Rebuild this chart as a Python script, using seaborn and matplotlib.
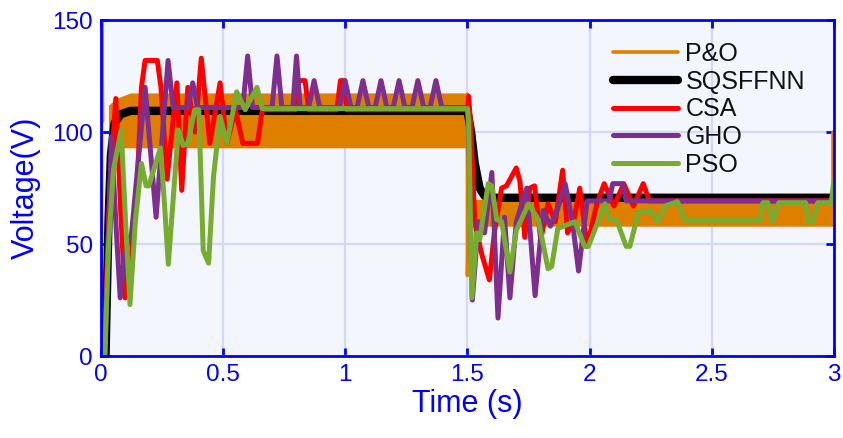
import matplotlib
matplotlib.use("Agg")
import matplotlib.pyplot as plt
import numpy as np
import pandas as pd
import seaborn as sns

# ── data ─────────────────────────────────────────────────────────────────────
# P&O: fast ripple drawn as an envelope band + its spikes
po_band_t  = [0.03, 0.06, 0.12, 1.497, 1.503, 3.0]
po_band_hi = [112, 115, 117.5, 117.5, 70, 70]
po_band_lo = [93, 93, 93, 93, 58, 58]
po_spike_t = [[0.0, 0.002, 0.006], [1.5, 1.5, 1.504], [2.998, 2.998]]
po_spike_v = [[0, 150, 105], [117, 36, 58], [60, 100]]

sq_t = [0, 0.018, 0.03, 0.04, 0.055, 0.08, 0.12, 1.5, 1.515, 1.53, 1.55, 1.57, 1.6, 3.0]
sq_v = [0, 0, 60, 90, 104, 108, 109.5, 109.5, 100, 86, 75, 71.5, 70.7, 70.7]

csa_t = [0, 0.012, 0.035, 0.06, 0.08, 0.098, 0.124, 0.145, 0.165, 0.18, 0.23, 0.245,
         0.27, 0.31, 0.33, 0.355, 0.385, 0.41, 0.445, 0.487, 0.515, 0.55, 0.58, 0.64,
         0.66, 0.795, 0.805, 0.835, 0.85, 0.965, 0.98, 0.995, 1.005, 1.5,
         1.505, 1.515, 1.53, 1.545, 1.56, 1.59, 1.61, 1.64, 1.66, 1.70, 1.715, 1.735,
         1.755, 1.775, 1.80, 1.83, 1.86, 1.89, 1.91, 1.935, 1.96, 1.99, 2.03, 2.06,
         2.10, 2.14, 2.18, 2.22, 2.245, 3.0]
csa_v = [0, 0, 75, 115, 65, 26, 46, 70, 120, 132, 132, 120,
         79, 122, 74, 120, 100, 133, 95, 122, 95, 110, 95, 95,
         110, 110, 123, 123, 110, 110, 123, 123, 110, 110,
         116, 100, 60, 52, 45, 34, 55, 75, 76, 84, 78, 53,
         75, 76, 52, 68, 60, 83, 55, 60, 75, 49, 68, 77,
         67, 77, 67, 77, 69.3, 69.3]

gho_t = [0, 0.016, 0.042, 0.06, 0.078, 0.095, 0.115, 0.123, 0.18, 0.225, 0.274, 0.295,
         0.355, 0.375, 0.395, 0.58, 0.60, 0.62, 0.70, 0.72, 0.74, 0.785, 0.80, 0.815,
         0.85, 0.872, 0.895, 0.975, 0.999, 1.023, 1.048, 1.072, 1.096, 1.122, 1.146,
         1.17, 1.196, 1.22, 1.244, 1.273, 1.297, 1.321, 1.347, 1.371, 1.395, 1.5,
         1.505, 1.52, 1.545, 1.57, 1.60, 1.625, 1.652, 1.674, 1.70, 1.743, 1.777,
         1.81, 1.84, 1.87, 1.90, 1.93, 1.955, 1.99, 2.08, 2.095, 2.135, 2.15, 3.0]
gho_v = [0, 0, 98, 60, 26, 45, 53, 53, 120, 62, 132, 111,
         111, 122, 111, 111, 134, 111, 111, 134, 111, 111, 134, 111,
         111, 123, 111, 111, 123, 111, 111, 123, 111, 111, 123,
         111, 111, 123, 111, 111, 123, 111, 111, 123, 111, 111,
         100, 25, 60, 55, 82, 17, 62, 26, 60, 75, 27,
         65, 58, 66, 77, 60, 38, 69.3, 69.3, 77, 77, 69.3, 69.3]

pso_t = [0, 0.015, 0.03, 0.05, 0.082, 0.1, 0.118, 0.14, 0.165, 0.184, 0.195, 0.243,
         0.258, 0.275, 0.316, 0.336, 0.355, 0.383, 0.40, 0.418, 0.44, 0.46, 0.487,
         0.515, 0.555, 0.59, 0.638, 0.66, 1.5,
         1.505, 1.518, 1.538, 1.55, 1.585, 1.60, 1.62, 1.64, 1.674, 1.70, 1.75, 1.79,
         1.83, 1.845, 1.87, 1.94, 1.98, 1.995, 2.063, 2.08, 2.11, 2.15, 2.165, 2.20,
         2.25, 2.28, 2.31, 2.36, 2.39, 2.70, 2.71, 2.73, 2.75, 2.775, 2.885, 2.895,
         2.915, 2.935, 2.99, 3.0]
pso_v = [0, 0, 49, 83, 101, 60, 23, 60, 86, 76, 76, 93,
         70, 41, 101, 94, 95, 110, 110, 47, 41.5, 80, 107,
         95, 118, 110, 120, 110.5, 110.5,
         105, 26, 55, 52, 77, 76, 61, 60, 37.5, 56, 68, 61,
         39, 40, 57, 60, 49, 49, 68, 61, 61, 49, 49, 64,
         65, 60, 67, 69, 60.7, 60.7, 68.5, 68.5, 60, 68.5, 68.5, 60,
         60, 68.5, 68.5, 78]

x_ticks = [0, 0.5, 1, 1.5, 2, 2.5, 3]
y_ticks = [0, 50, 100, 150]

# ── style ────────────────────────────────────────────────────────────────────
BLUE = "#0000FF"
ORANGE = "#DF7F00"
sns.set_style("ticks")
plt.rcParams["font.family"] = ["Liberation Sans", "DejaVu Sans"]
plt.rcParams["lines.solid_joinstyle"] = "round"
plt.rcParams["lines.solid_capstyle"] = "round"

fig = plt.figure(figsize=(8.43, 4.38), dpi=100)
ax = fig.add_axes([0.12, 0.187, 0.869, 0.767])
ax.set_facecolor("#F3F6FC")

# P&O band + spikes
ax.fill_between(po_band_t, po_band_lo, po_band_hi, color=ORANGE, linewidth=0, zorder=2)
for i, (st, sv) in enumerate(zip(po_spike_t, po_spike_v)):
    sns.lineplot(x=st, y=sv, ax=ax, color=ORANGE, linewidth=2.6, sort=False,
                 estimator=None, label="P&O" if i == 0 else None, zorder=2)

series = [
    ("SQSFFNN", sq_t, sq_v, "black", 6.0),
    ("CSA", csa_t, csa_v, "#FF0000", 3.6),
    ("GHO", gho_t, gho_v, "#7E2F8E", 3.6),
    ("PSO", pso_t, pso_v, "#77AC30", 3.6),
]
for z, (name, t, v, c, lw) in enumerate(series):
    sns.lineplot(x=t, y=v, ax=ax, color=c, linewidth=lw, sort=False, estimator=None,
                 label=name, zorder=3 + z)

ax.set_xlim(0, 3)
ax.set_ylim(0, 150)
ax.set_xticks(x_ticks)
ax.set_xticklabels([f"{x:g}" for x in x_ticks])
ax.set_yticks(y_ticks)
ax.grid(True, color="#D3D8F6", linewidth=1.6)
ax.set_axisbelow(True)

for s in ax.spines.values():
    s.set_color(BLUE)
    s.set_linewidth(2.0)
    s.set_zorder(10)
ax.tick_params(direction="in", top=True, right=True, color=BLUE, labelcolor=BLUE,
               length=6, width=2.0, labelsize=17.5, pad=6)
ax.set_xlabel("Time (s)", fontsize=22, color=BLUE, labelpad=2)
ax.set_ylabel("Voltage(V)", fontsize=22, color=BLUE, labelpad=8)

handles, labels = ax.get_legend_handles_labels()
leg = ax.legend(handles, labels, loc="upper left", bbox_to_anchor=(0.685, 0.965),
                frameon=False, fontsize=18, handlelength=2.6, handletextpad=0.3,
                labelspacing=0.15, borderaxespad=0)
for txt in leg.get_texts():
    txt.set_color("#111111")

fig.savefig("out.png", dpi=100)
